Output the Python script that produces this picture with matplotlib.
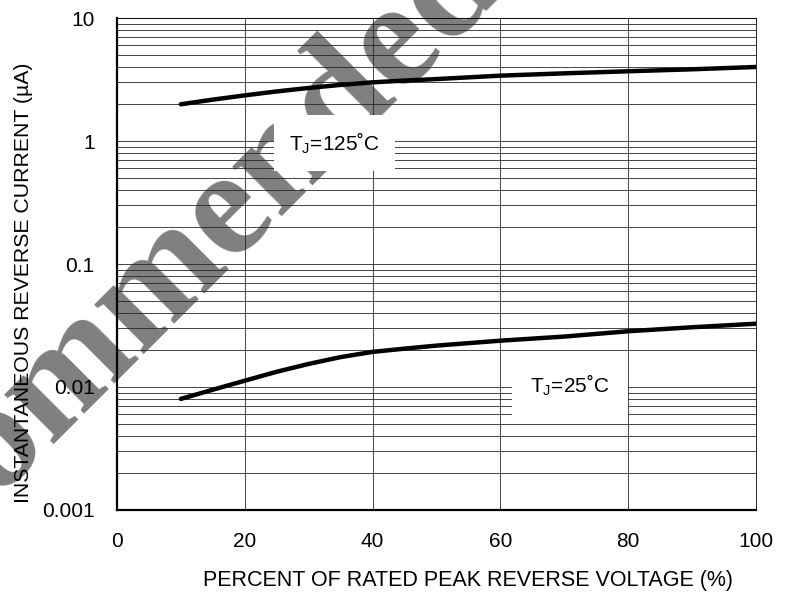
import matplotlib.pyplot as plt

# Données
pct_voltage = [10, 15, 20, 25, 30, 35, 40, 45, 50, 60, 70, 80, 90, 100]
current_125c = [1.99, 2.17, 2.35, 2.53, 2.70, 2.86, 3.0, 3.10, 3.19, 3.40, 3.55, 3.69, 3.83, 4.0]
current_25c = [0.0080, 0.0095, 0.01125, 0.0133, 0.0154, 0.0175, 0.0193, 0.0205, 0.0217,
               0.0238, 0.0257, 0.0284, 0.0306, 0.0327]
x_ticks = [0, 20, 40, 60, 80, 100]
y_ticks = [0.001, 0.01, 0.1, 1, 10]
y_tick_labels = ['0.001', '0.01', '0.1', '1', '10']

plt.rcParams['font.family'] = ['Liberation Sans', 'DejaVu Sans']

fig = plt.figure(figsize=(7.9, 5.93), dpi=100)
ax = fig.add_axes([0.148, 0.140, 0.809, 0.8296])
ax.patch.set_alpha(0)

ax.set_yscale('log')
ax.set_xlim(0, 100)
ax.set_ylim(0.001, 10)

# Grille
ax.grid(True, which='major', axis='both', color='0.15', lw=0.6)
ax.grid(True, which='minor', axis='y', color='0.15', lw=0.6)

ax.plot(pct_voltage, current_125c, color='black', lw=3.2, solid_capstyle='round', zorder=3)
ax.plot(pct_voltage, current_25c, color='black', lw=3.2, solid_capstyle='round', zorder=3)

ax.set_xticks(x_ticks)
ax.set_yticks(y_ticks)
ax.set_yticklabels(y_tick_labels)
ax.tick_params(axis='both', which='both', length=0, labelsize=15, pad=16)

for side in ['top', 'right']:
    ax.spines[side].set_linewidth(0.6)
for side in ['left', 'bottom']:
    ax.spines[side].set_linewidth(1.6)

ax.set_xlabel('PERCENT OF RATED PEAK REVERSE VOLTAGE (%)', fontsize=15.5, va='top')
ax.xaxis.set_label_coords(0.549, -0.122)
ax.set_ylabel('INSTANTANEOUS REVERSE CURRENT (\u00b5A)', fontsize=15.3)
ax.yaxis.set_label_coords(-0.1315, 0.462)

ax.text(34, 0.955, 'T$_\\mathregular{J}$=125\u02daC', fontsize=15, ha='center', va='center',
        bbox=dict(facecolor='white', edgecolor='none', pad=11), zorder=4)
ax.text(70.9, 0.0104, 'T$_\\mathregular{J}$=25\u02daC', fontsize=15, ha='center', va='center',
        bbox=dict(facecolor='white', edgecolor='none', pad=13), zorder=4)

# Filigrane
fig.text(0.0861, 0.2749, 'Not Recommended', fontsize=110, family='Liberation Serif', weight='bold',
         color='#7f7f7f', rotation=45, rotation_mode='anchor', ha='center', va='baseline', zorder=-1)

plt.savefig('out.png', dpi=100)
